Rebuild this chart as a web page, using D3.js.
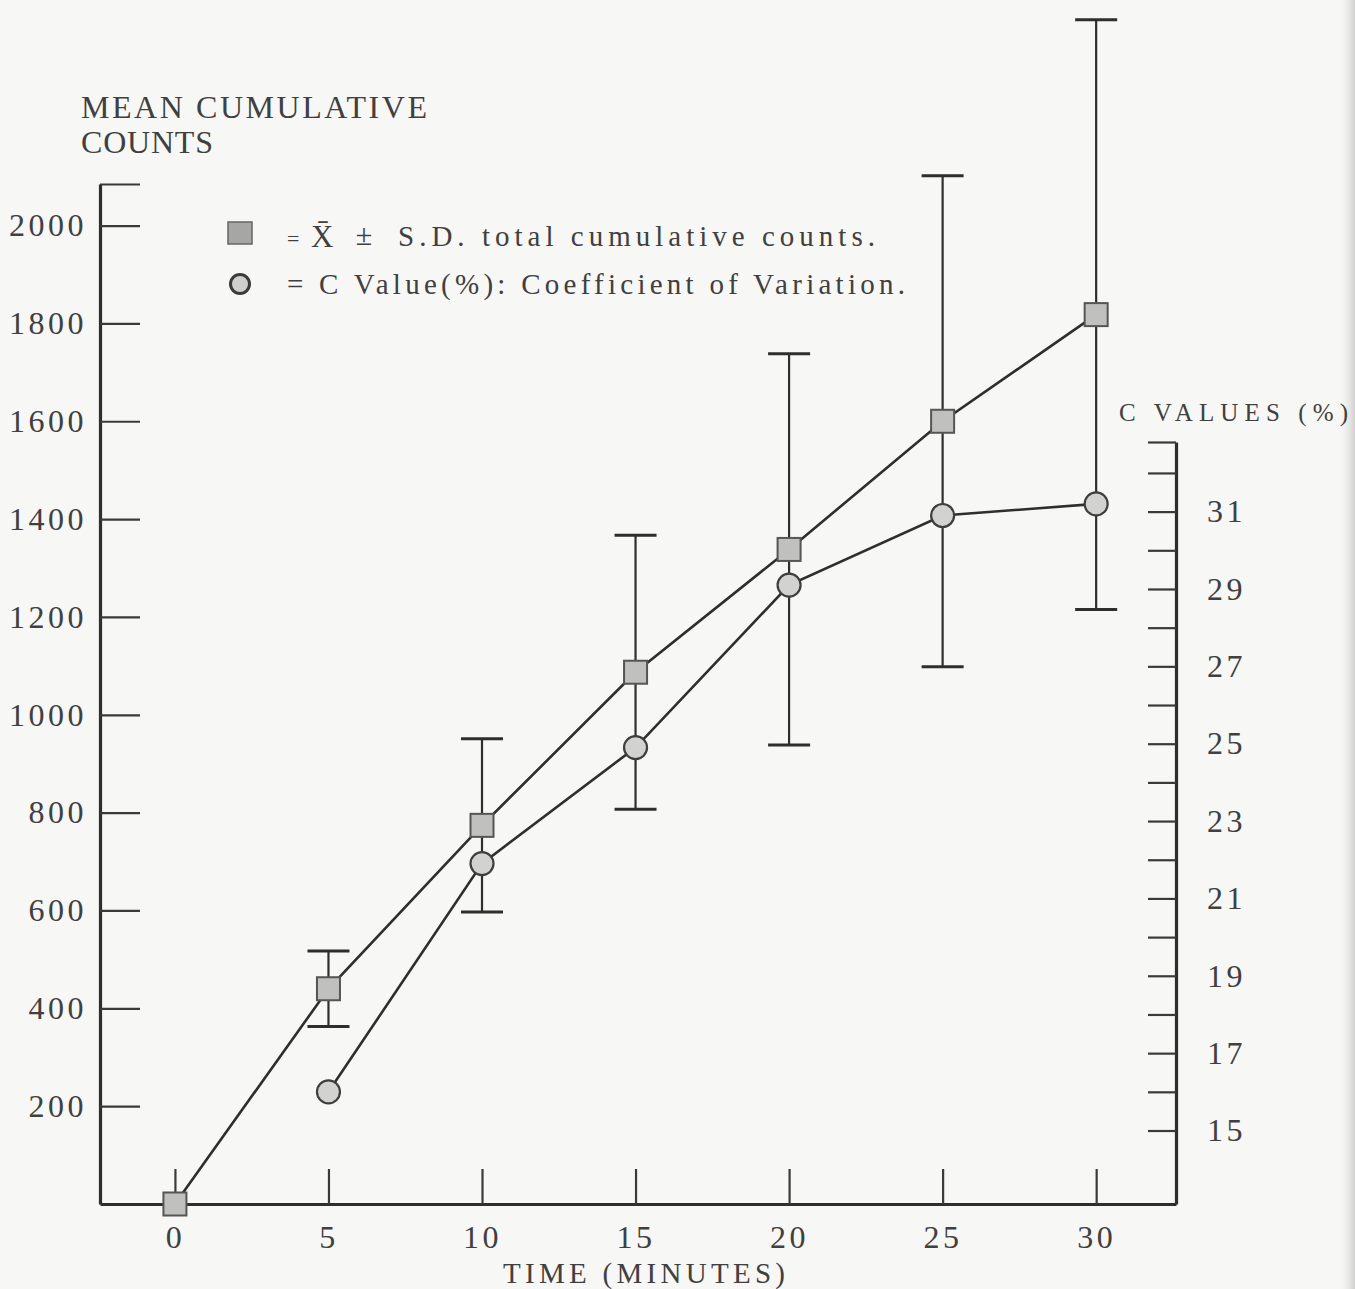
<!DOCTYPE html>
<html>
<head>
<meta charset="utf-8">
<script src="https://cdn.jsdelivr.net/npm/d3@7"></script>
<style>
  html, body { margin: 0; padding: 0; background: #f7f7f6; }
  svg { display: block; }
</style>
</head>
<body>
<svg id="chart" width="1355" height="1289"></svg>
<script>
// Sampling times (minutes)
const times = [0, 5, 10, 15, 20, 25, 30];
// Mean total cumulative counts at each time
const meanCounts = [0, 440, 774, 1087, 1338, 1600, 1818];
// Standard deviation of the total cumulative counts
const sdCounts = [0, 77, 177, 280, 400, 502, 603];
// Coefficient of variation (%); undefined at time 0
const cValues = [null, 16.0, 21.9, 24.9, 29.1, 30.9, 31.2];

// Axis ticks and labels
const timeTicks = [0, 5, 10, 15, 20, 25, 30];
const countTicks = [200, 400, 600, 800, 1000, 1200, 1400, 1600, 1800, 2000];
const cTicks = [15, 16, 17, 18, 19, 20, 21, 22, 23, 24, 25, 26, 27, 28, 29, 30, 31, 32];
const cLabels = [15, 17, 19, 21, 23, 25, 27, 29, 31];

// Axis extents (data units)
const timeExtent = [-2.44, 32.6];
const countExtent = [0, 2085];
const cExtent = [13.1, 32.8];

const INK = "#2e2e2e";
const TEXT = "#404040";
const FONT = "'Liberation Serif', 'DejaVu Serif', serif";

const svg = d3.select("#chart");

// Faint shadow along the right page edge
const defs = svg.append("defs");
const edge = defs.append("linearGradient").attr("id", "edgeShade").attr("x1", 0).attr("x2", 1);
edge.append("stop").attr("offset", 0).attr("stop-color", "#f7f7f6").attr("stop-opacity", 0);
edge.append("stop").attr("offset", 1).attr("stop-color", "#cfcfcd").attr("stop-opacity", 1);
svg.append("rect").attr("x", 1338).attr("y", 0).attr("width", 17).attr("height", 1289)
  .attr("fill", "url(#edgeShade)");

const x = d3.scaleLinear().domain(timeExtent).range([100, 1176]);
const y = d3.scaleLinear().domain(countExtent).range([1204, 184]);
const c = d3.scaleLinear().domain(cExtent).range([1204, 442]);

function styleAxis(g, fontSize, spacing) {
  g.attr("font-family", FONT).attr("font-size", fontSize);
  g.select(".domain").attr("stroke", INK).attr("stroke-width", 3.2);
  g.selectAll(".tick line").attr("stroke", "#3a3a3a").attr("stroke-width", 2.2);
  g.selectAll(".tick text").attr("fill", TEXT).attr("letter-spacing", spacing);
}

// Left axis: mean cumulative counts (ticks point inward)
const gLeft = svg.append("g")
  .attr("transform", `translate(${x.range()[0]},0)`)
  .call(d3.axisLeft(y)
    .tickValues(countTicks.concat([countExtent[1]]))
    .tickFormat(d => countTicks.includes(d) ? d : "")
    .tickSizeInner(-40).tickSizeOuter(0).tickPadding(13));
styleAxis(gLeft, 32, 3.5);

// Bottom axis: time
const gBottom = svg.append("g")
  .attr("transform", `translate(0,${y(0)})`)
  .call(d3.axisBottom(x)
    .tickValues(timeTicks)
    .tickSizeInner(-35).tickSizeOuter(0).tickPadding(21));
styleAxis(gBottom, 32, 3.5);

// Right axis: C values (%)
const gRight = svg.append("g")
  .attr("transform", `translate(${x.range()[1]},0)`)
  .call(d3.axisRight(c)
    .tickValues(cTicks.concat([cExtent[1]]))
    .tickFormat(d => cLabels.includes(d) ? d : "")
    .tickSizeInner(-28).tickSizeOuter(0).tickPadding(31));
styleAxis(gRight, 32, 3.5);

// Axis titles
svg.append("text").attr("x", 81).attr("y", 118)
  .attr("font-family", FONT).attr("font-size", 32).attr("fill", TEXT)
  .attr("textLength", 346).attr("lengthAdjust", "spacing")
  .text("MEAN CUMULATIVE");
svg.append("text").attr("x", 81).attr("y", 153)
  .attr("font-family", FONT).attr("font-size", 32).attr("fill", TEXT)
  .attr("textLength", 132).attr("lengthAdjust", "spacing")
  .text("COUNTS");
svg.append("text").attr("x", 644).attr("y", 1283)
  .attr("text-anchor", "middle")
  .attr("font-family", FONT).attr("font-size", 29).attr("fill", TEXT)
  .attr("textLength", 282).attr("lengthAdjust", "spacing")
  .text("TIME (MINUTES)");
svg.append("text").attr("x", 1119).attr("y", 421)
  .attr("font-family", FONT).attr("font-size", 25).attr("fill", TEXT)
  .attr("textLength", 229).attr("lengthAdjust", "spacing")
  .text("C VALUES (%)");

const rows = times.map((t, i) => ({ t, mean: meanCounts[i], sd: sdCounts[i], cv: cValues[i] }));

// Error bars: mean ± S.D.
const capHalf = 21;
const eb = svg.append("g").attr("stroke", INK).attr("stroke-width", 2.2);
rows.filter(d => d.sd > 0).forEach(d => {
  const cx = x(d.t), y0 = y(d.mean - d.sd), y1 = y(d.mean + d.sd);
  eb.append("line").attr("x1", cx).attr("x2", cx).attr("y1", y0).attr("y2", y1);
  eb.append("line").attr("x1", cx - capHalf).attr("x2", cx + capHalf).attr("y1", y0).attr("y2", y0).attr("stroke-width", 3);
  eb.append("line").attr("x1", cx - capHalf).attr("x2", cx + capHalf).attr("y1", y1).attr("y2", y1).attr("stroke-width", 3);
});

// Connecting lines
svg.append("path")
  .datum(rows)
  .attr("fill", "none").attr("stroke", INK).attr("stroke-width", 2.6)
  .attr("d", d3.line().x(d => x(d.t)).y(d => y(d.mean)));
svg.append("path")
  .datum(rows.filter(d => d.cv != null))
  .attr("fill", "none").attr("stroke", INK).attr("stroke-width", 2.6)
  .attr("d", d3.line().x(d => x(d.t)).y(d => c(d.cv)));

// Square markers: mean counts
const sq = 23;
svg.append("g").selectAll("rect").data(rows).join("rect")
  .attr("x", d => x(d.t) - sq / 2).attr("y", d => y(d.mean) - sq / 2)
  .attr("width", sq).attr("height", sq)
  .attr("fill", "#c0c0be").attr("stroke", "#555").attr("stroke-width", 2);

// Circle markers: C values
svg.append("g").selectAll("circle").data(rows.filter(d => d.cv != null)).join("circle")
  .attr("cx", d => x(d.t)).attr("cy", d => c(d.cv)).attr("r", 11.5)
  .attr("fill", "#d2d2d0").attr("stroke", "#3e3e3e").attr("stroke-width", 2.2);

// Legend
const lg = svg.append("g").attr("font-family", FONT).attr("fill", TEXT);
lg.append("rect").attr("x", 228).attr("y", 222).attr("width", 24).attr("height", 22)
  .attr("fill", "#a6a6a4").attr("stroke", "#666").attr("stroke-width", 1.5);
lg.append("circle").attr("cx", 240).attr("cy", 284).attr("r", 9.5)
  .attr("fill", "#cfcfcd").attr("stroke", "#3a3a3a").attr("stroke-width", 3);

lg.append("text").attr("x", 287).attr("y", 246).attr("font-size", 22).text("=");
lg.append("text").attr("x", 311).attr("y", 247).attr("font-size", 31).text("X\u0304");
lg.append("text").attr("x", 364).attr("y", 245).attr("font-size", 30)
  .attr("text-anchor", "middle").text("\u00B1");
lg.append("text").attr("x", 398).attr("y", 246).attr("font-size", 29)
  .attr("textLength", 477).attr("lengthAdjust", "spacing")
  .text("S.D. total cumulative counts.");
lg.append("text").attr("x", 287).attr("y", 294).attr("font-size", 29)
  .attr("textLength", 618).attr("lengthAdjust", "spacing")
  .text("= C Value(%): Coefficient of Variation.");
</script>
</body>
</html>
